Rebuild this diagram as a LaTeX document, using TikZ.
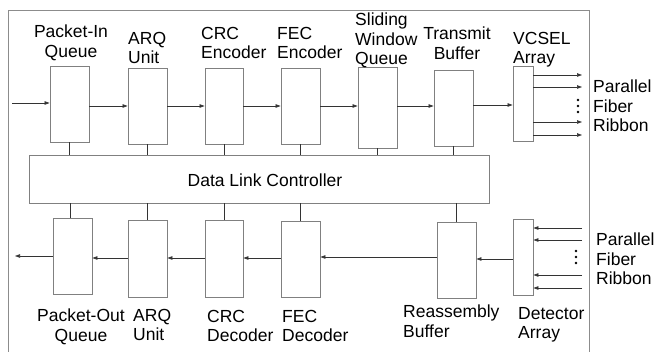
\documentclass[tikz,border=0pt]{standalone}
\usepackage{fontspec}
\setmainfont{Liberation Sans}
\usetikzlibrary{arrows.meta,calc}
\begin{document}
\begin{tikzpicture}[x=1pt,y=-1pt,
  font=\fontsize{17.5}{19.5}\selectfont,
  blk/.style={draw=black!50,line width=0.9pt,fill=white,inner sep=0pt,minimum width=39pt,minimum height=76pt},
  arr/.style={draw=black!80,line width=0.6pt,-{Triangle[length=5pt,width=3.5pt]}},
  ln/.style={draw=black!80,line width=0.6pt},
  lbl/.style={inner sep=0pt,anchor=north west,align=left},
  lblc/.style={inner sep=0pt,anchor=north,align=center},
  dotf/.style={fill=black}]
\useasboundingbox (0,0) rectangle (660,352);
% frame
\draw[draw=black!45,line width=0.9pt] (8,352) -- (8,10) -- (589,10) -- (589,352);
% top row boxes
\node[blk] (pin)  at (69.5,104) {};
\node[blk] (arq1) at (147.5,106) {};
\node[blk,minimum width=38pt] (crc1) at (224,106) {};
\node[blk] (fec1) at (300.5,106) {};
\node[blk,minimum height=81pt] (sw) at (377.5,107.5) {};
\node[blk] (tb) at (453.5,108) {};
\node[blk,minimum width=20pt,minimum height=75pt] (vcsel) at (523,103.5) {};
% controller
\node[blk,minimum width=460pt,minimum height=48pt] (dlc) at (259,179) {};
\node[inner sep=0pt] (dlct) at (265,180) {Data Link Controller};
% bottom row boxes
\node[blk] (pout) at (72.5,256) {};
\node[blk,minimum height=77pt] (arq2) at (147.5,258.5) {};
\node[blk,minimum width=38pt,minimum height=77pt] (crc2) at (224,258.5) {};
\node[blk] (fec2) at (300.5,259) {};
\node[blk] (rb) at (456.5,260) {};
\node[blk,minimum width=20pt] (det) at (523,257) {};
% labels top
\node[lblc] (lpin) at (71,25) {Packet-In\\Queue};
\node[lbl] (larq1) at (128,32) {ARQ\\Unit};
\node[lbl] (lcrc1) at (201,27) {CRC\\Encoder};
\node[lbl] (lfec1) at (277,27) {FEC\\Encoder};
\node[lbl] (lsw) at (355,13) {Sliding\\Window\\Queue};
\node[lblc] (ltb) at (457,27) {Transmit\\Buffer};
\node[lbl] (lvc) at (513,32) {VCSEL\\Array};
\node[lbl] (lpf1) at (593,80) {Parallel\\Fiber\\Ribbon};
% labels bottom
\node[lblc] (lpout) at (81,309) {Packet-Out\\Queue};
\node[lbl] (larq2) at (133,309) {ARQ\\Unit};
\node[lbl] (lcrc2) at (207,310) {CRC\\Decoder};
\node[lbl] (lfec2) at (282,310) {FEC\\Decoder};
\node[lbl] (lrb) at (403,305) {Reassembly\\Buffer};
\node[lbl] (ldet) at (518,307) {Detector\\Array};
\node[lbl] (lpf2) at (596,233) {Parallel\\Fiber\\Ribbon};
% top arrows
\coordinate (in) at (12,103);
\draw[arr] (in) -- (in -| pin.west);
\draw[arr] (pin.east |- arq1.west) -- (arq1.west);
\draw[arr] (arq1.east) -- (crc1.west);
\draw[arr] (crc1.east) -- (fec1.west);
\draw[arr] (fec1.east) -- (fec1.east -| sw.west);
\draw[arr] (sw.east |- 0,106) -- (tb.west |- 0,106);
\draw[arr] (tb.east |- 0,105) -- (vcsel.west |- 0,105);
% fibers out
\foreach \y/\n in {75/a,87/b,122/c,135/d}{
  \coordinate (fo\n) at (582,\y);
  \draw[arr] (vcsel.east |- fo\n) -- (fo\n);
}
\foreach \y in {100,106,112}{\fill (578,\y) circle (1.3pt);}
% verticals top
\foreach \b in {pin,arq1,crc1,fec1,sw,tb}{
  \draw[ln] (\b.south) -- (\b.south |- dlc.north);
}
% verticals bottom
\foreach \b in {arq2,crc2,fec2,rb}{
  \draw[ln] (\b.north |- dlc.south) -- (\b.north);
}
\draw[ln] (dlc.south -| 70,0) -- (pout.north -| 70,0);
% bottom arrows
\coordinate (out) at (15,256);
\draw[arr] (pout.west |- out) -- (out);
\draw[arr] (arq2.west |- 0,258) -- (pout.east |- 0,258);
\draw[arr] (crc2.west |- 0,258) -- (arq2.east |- 0,258);
\draw[arr] (fec2.west |- 0,258) -- (crc2.east |- 0,258);
\draw[arr] (rb.west |- 0,257) -- (fec2.east |- 0,257);
\draw[arr] (det.west |- 0,259) -- (rb.east |- 0,259);
% fibers in
\foreach \y/\n in {228/a,240/b,275/c,288/d}{
  \coordinate (fi\n) at (582,\y);
  \draw[arr] (fi\n) -- (det.east |- fi\n);
}
\foreach \y in {251,257,263}{\fill (576,\y) circle (1.3pt);}
\end{tikzpicture}
\end{document}
